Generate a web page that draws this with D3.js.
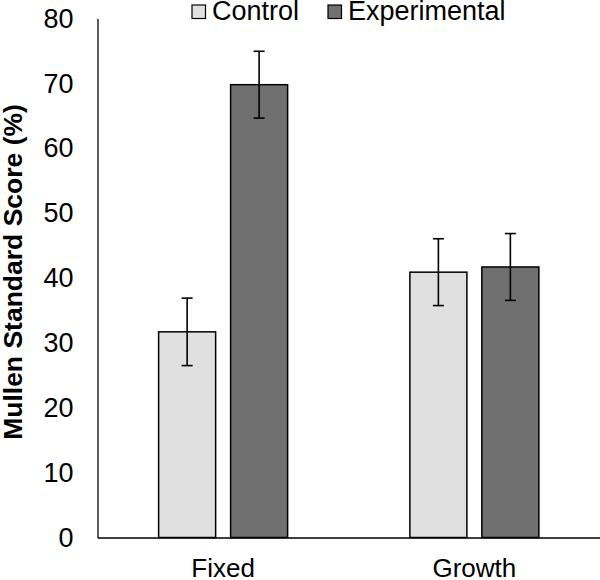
<!DOCTYPE html>
<html>
<head>
<meta charset="utf-8">
<script src="https://cdn.jsdelivr.net/npm/d3@7"></script>
<style>
  html, body { margin: 0; padding: 0; background: #fff; }
  svg { display: block; font-family: "Liberation Sans", Arial, sans-serif; }
</style>
</head>
<body>
<svg id="chart" width="600" height="580"></svg>
<script>
const categories = ["Fixed", "Growth"];
const seriesNames = ["Control", "Experimental"];
const controlValues = [31.7, 40.9];
const experimentalValues = [69.8, 41.7];
const controlErrors = [5.2, 5.15];
const experimentalErrors = [5.15, 5.15];
const yTicks = [0, 10, 20, 30, 40, 50, 60, 70, 80];
const colors = { Control: "#e0e0e0", Experimental: "#707070" };

const svg = d3.select("#chart");
const plotLeft = 97.5, plotRight = 600, plotTop = 18.5, plotBottom = 537.5;

const y = d3.scaleLinear().domain([0, 80]).range([plotBottom, plotTop]);
const x0 = d3.scaleBand().domain(categories).range([plotLeft, plotRight]).padding(0);
const groupW = 129;
const x1 = d3.scaleBand().domain(seriesNames).range([0, groupW]).paddingInner(0.208).paddingOuter(0);

const data = [];
categories.forEach((c, i) => {
  data.push({ cat: c, s: "Control", v: controlValues[i], e: controlErrors[i] });
  data.push({ cat: c, s: "Experimental", v: experimentalValues[i], e: experimentalErrors[i] });
});
const bx = d => x0(d.cat) + (x0.bandwidth() - groupW) / 2 + x1(d.s);

// bars
svg.append("g").selectAll("rect").data(data).join("rect")
  .attr("x", bx)
  .attr("y", d => y(d.v))
  .attr("width", x1.bandwidth())
  .attr("height", d => y(0) - y(d.v))
  .attr("fill", d => colors[d.s])
  .attr("stroke", "#000")
  .attr("stroke-width", 1.5);

// error bars
const eb = svg.append("g").attr("stroke", "#000").attr("stroke-width", 1.6);
data.forEach(d => {
  const cx = bx(d) + x1.bandwidth() / 2;
  eb.append("line").attr("x1", cx).attr("x2", cx).attr("y1", y(d.v + d.e)).attr("y2", y(d.v - d.e));
  eb.append("line").attr("x1", cx - 5.5).attr("x2", cx + 5.5).attr("y1", y(d.v + d.e)).attr("y2", y(d.v + d.e));
  eb.append("line").attr("x1", cx - 5.5).attr("x2", cx + 5.5).attr("y1", y(d.v - d.e)).attr("y2", y(d.v - d.e));
});

// y axis
const ya = svg.append("g").attr("transform", `translate(${plotLeft},0)`)
  .call(d3.axisLeft(y).tickValues(yTicks).tickSize(0).tickPadding(24).tickSizeOuter(0));
ya.select(".domain").attr("stroke", "#000").attr("stroke-width", 1.3);
ya.selectAll("text").attr("font-size", 27).attr("fill", "#000")
  .attr("font-family", "'Liberation Sans', Arial, sans-serif");

// x axis
const xa = svg.append("g").attr("transform", `translate(0,${plotBottom})`)
  .call(d3.axisBottom(x0).tickSize(0).tickPadding(21.5).tickSizeOuter(0));
xa.select(".domain").attr("stroke", "#000").attr("stroke-width", 1.3);
xa.selectAll("text").attr("font-size", 26).attr("fill", "#000")
  .attr("font-family", "'Liberation Sans', Arial, sans-serif");

// y title
svg.append("text")
  .attr("transform", "translate(22,272) rotate(-90)")
  .attr("text-anchor", "middle")
  .attr("font-size", 26.5)
  .attr("font-weight", "bold")
  .text("Mullen Standard Score (%)");

// legend
const legendX = [192, 328];
const lg = svg.append("g");
seriesNames.forEach((s, i) => {
  lg.append("rect").attr("x", legendX[i]).attr("y", 5).attr("width", 13.5).attr("height", 13.5)
    .attr("fill", colors[s]).attr("stroke", "#000").attr("stroke-width", 1.2);
  lg.append("text").attr("x", legendX[i] + 20).attr("y", 20)
    .attr("font-size", 27).text(s);
});
</script>
</body>
</html>
